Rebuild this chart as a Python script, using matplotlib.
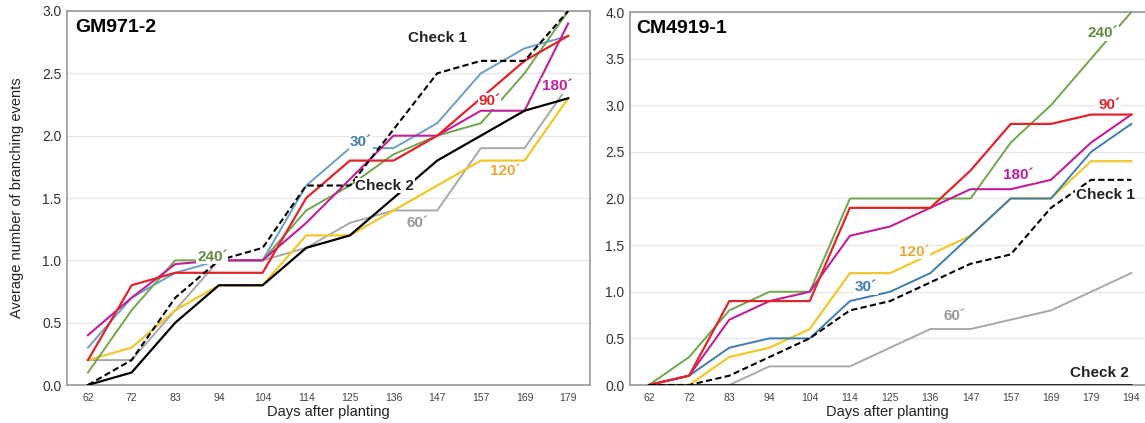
"""
Average number of branching events for two clones (GM971-2, CM4919-1)
"""
import matplotlib
matplotlib.use("Agg")
import matplotlib.pyplot as plt

plt.rcParams["font.family"] = ["Liberation Sans", "DejaVu Sans"]

# ---- data: GM971-2 ----
days_gm = ["62", "72", "83", "94", "104", "114", "125", "136", "147", "157", "169", "179"]
gm_30 = [0.3, 0.7, 0.9, 1.0, 1.0, 1.6, 1.9, 1.9, 2.1, 2.5, 2.7, 2.8]
gm_60 = [0.2, 0.2, 0.6, 1.0, 1.0, 1.1, 1.3, 1.4, 1.4, 1.9, 1.9, 2.4]
gm_90 = [0.2, 0.8, 0.9, 0.9, 0.9, 1.5, 1.8, 1.8, 2.0, 2.3, 2.6, 2.8]
gm_120 = [0.2, 0.3, 0.6, 0.8, 0.8, 1.2, 1.2, 1.4, 1.6, 1.8, 1.8, 2.3]
gm_180 = [0.4, 0.7, 0.97, 1.0, 1.0, 1.3, 1.65, 2.0, 2.0, 2.2, 2.2, 2.9]
gm_240 = [0.1, 0.6, 1.0, 1.0, 1.0, 1.4, 1.6, 1.85, 2.0, 2.1, 2.5, 3.0]
gm_check1 = [0.0, 0.2, 0.7, 1.0, 1.1, 1.6, 1.6, 2.05, 2.5, 2.6, 2.6, 3.0]
gm_check2 = [0.0, 0.1, 0.5, 0.8, 0.8, 1.1, 1.2, 1.5, 1.8, 2.0, 2.2, 2.3]

# ---- data: CM4919-1 ----
days_cm = ["62", "72", "83", "94", "104", "114", "125", "136", "147", "157", "169", "179", "194"]
cm_30 = [0.0, 0.1, 0.4, 0.5, 0.5, 0.9, 1.0, 1.2, 1.6, 2.0, 2.0, 2.5, 2.8]
cm_60 = [0.0, 0.0, 0.0, 0.2, 0.2, 0.2, 0.4, 0.6, 0.6, 0.7, 0.8, 1.0, 1.2]
cm_90 = [0.0, 0.1, 0.9, 0.9, 0.9, 1.9, 1.9, 1.9, 2.3, 2.8, 2.8, 2.9, 2.9]
cm_120 = [0.0, 0.0, 0.3, 0.4, 0.6, 1.2, 1.2, 1.4, 1.6, 2.0, 2.0, 2.4, 2.4]
cm_180 = [0.0, 0.1, 0.7, 0.9, 1.0, 1.6, 1.7, 1.9, 2.1, 2.1, 2.2, 2.6, 2.9]
cm_240 = [0.0, 0.3, 0.8, 1.0, 1.0, 2.0, 2.0, 2.0, 2.0, 2.6, 3.0, 3.5, 4.0]
cm_check1 = [0.0, 0.0, 0.1, 0.3, 0.5, 0.8, 0.9, 1.1, 1.3, 1.4, 1.9, 2.2, 2.2]
cm_check2 = [0.0] * 13

# colours
C30 = "#6A9FCB"
C30_R = "#3F7CB0"
C60 = "#A8A8A8"
C90 = "#E0242B"
C120 = "#F0C82A"
C180 = "#C21E9A"
C240 = "#6FA54B"
L120 = "#E7A93A"
L240 = "#5E8C3E"

fig = plt.figure(figsize=(11.45, 4.23), dpi=100)
ax1 = fig.add_axes((67 / 1145, 1 - 385 / 423, 523 / 1145, 374 / 423))
ax2 = fig.add_axes((630 / 1145, 1 - 385 / 423, 515 / 1145, 373 / 423))


def draw(ax, days, series):
    x = list(range(len(days)))
    for vals, col, ls, lw in series:
        ax.plot(x, vals, color=col, linestyle=ls, linewidth=lw,
                dashes=(3, 1.6) if ls == "--" else (None, None), zorder=3)
    ax.set_xticks(x)
    ax.set_xticklabels(days, fontsize=7.5, color="#444444")
    ax.tick_params(axis="x", length=0, pad=6)
    ax.tick_params(axis="y", length=0, labelsize=10, colors="#333333", pad=4)
    ax.yaxis.grid(True, color="#e6e6e6", linewidth=0.9)
    ax.set_axisbelow(True)
    for s in ax.spines.values():
        s.set_color("#999999")
        s.set_linewidth(1.2)
    ax.set_xlabel("Days after planting", fontsize=10.5, color="#222222", labelpad=1)


def lab(ax, x, y, txt, col, size=11):
    ax.text(x, y, txt, color=col, fontsize=size, fontweight="bold", ha="center",
            va="center", zorder=5,
            bbox=dict(facecolor="white", edgecolor="none", pad=0.6))


# ---- left panel ----
draw(ax1, days_gm, [
    (gm_60, C60, "-", 1.4),
    (gm_120, C120, "-", 1.6),
    (gm_30, C30, "-", 1.4),
    (gm_240, C240, "-", 1.4),
    (gm_180, C180, "-", 1.5),
    (gm_90, C90, "-", 1.6),
    (gm_check2, "black", "-", 1.6),
    (gm_check1, "black", "--", 1.5),
])
ax1.set_xlim(-0.48, 11.5)
ax1.set_ylim(0, 3.0)
ax1.set_yticks([0, 0.5, 1.0, 1.5, 2.0, 2.5, 3.0])
ax1.set_ylabel("Average number of branching events", fontsize=10.5, color="#222222", labelpad=13)
ax1.text(0.015, 0.955, "GM971-2", transform=ax1.transAxes, fontsize=14,
         fontweight="bold", va="center", ha="left")
lab(ax1, 8.0, 2.78, "Check 1", "#222222")
lab(ax1, 6.25, 1.95, "30´", C30_R)
lab(ax1, 9.2, 2.28, "90´", C90)
lab(ax1, 10.75, 2.4, "180´", C180)
lab(ax1, 2.85, 1.03, "240´", L240)
lab(ax1, 6.8, 1.6, "Check 2", "#222222")
lab(ax1, 9.55, 1.72, "120´", L120)
lab(ax1, 7.55, 1.3, "60´", "#999999")

# ---- right panel ----
draw(ax2, days_cm, [
    (cm_60, C60, "-", 1.4),
    (cm_120, C120, "-", 1.6),
    (cm_30, C30_R, "-", 1.4),
    (cm_240, C240, "-", 1.4),
    (cm_180, C180, "-", 1.5),
    (cm_90, C90, "-", 1.6),
    (cm_check1, "black", "--", 1.5),
    (cm_check2, "black", "-", 1.8),
])
ax2.spines["right"].set_visible(False)
ax2.set_xlim(-0.47, 12.34)
ax2.set_ylim(0, 4.0)
ax2.set_yticks([0, 0.5, 1.0, 1.5, 2.0, 2.5, 3.0, 3.5, 4.0])
ax2.text(0.012, 0.955, "CM4919-1", transform=ax2.transAxes, fontsize=14,
         fontweight="bold", va="center", ha="left")
lab(ax2, 11.3, 3.77, "240´", L240)
lab(ax2, 11.45, 3.0, "90´", C90)
lab(ax2, 9.2, 2.25, "180´", C180)
lab(ax2, 6.6, 1.43, "120´", L120)
lab(ax2, 11.35, 2.04, "Check 1", "#222222")
lab(ax2, 5.4, 1.05, "30´", C30_R)
lab(ax2, 7.6, 0.74, "60´", "#999999")
lab(ax2, 11.2, 0.13, "Check 2", "#222222")

fig.savefig("out.png", dpi=100)
